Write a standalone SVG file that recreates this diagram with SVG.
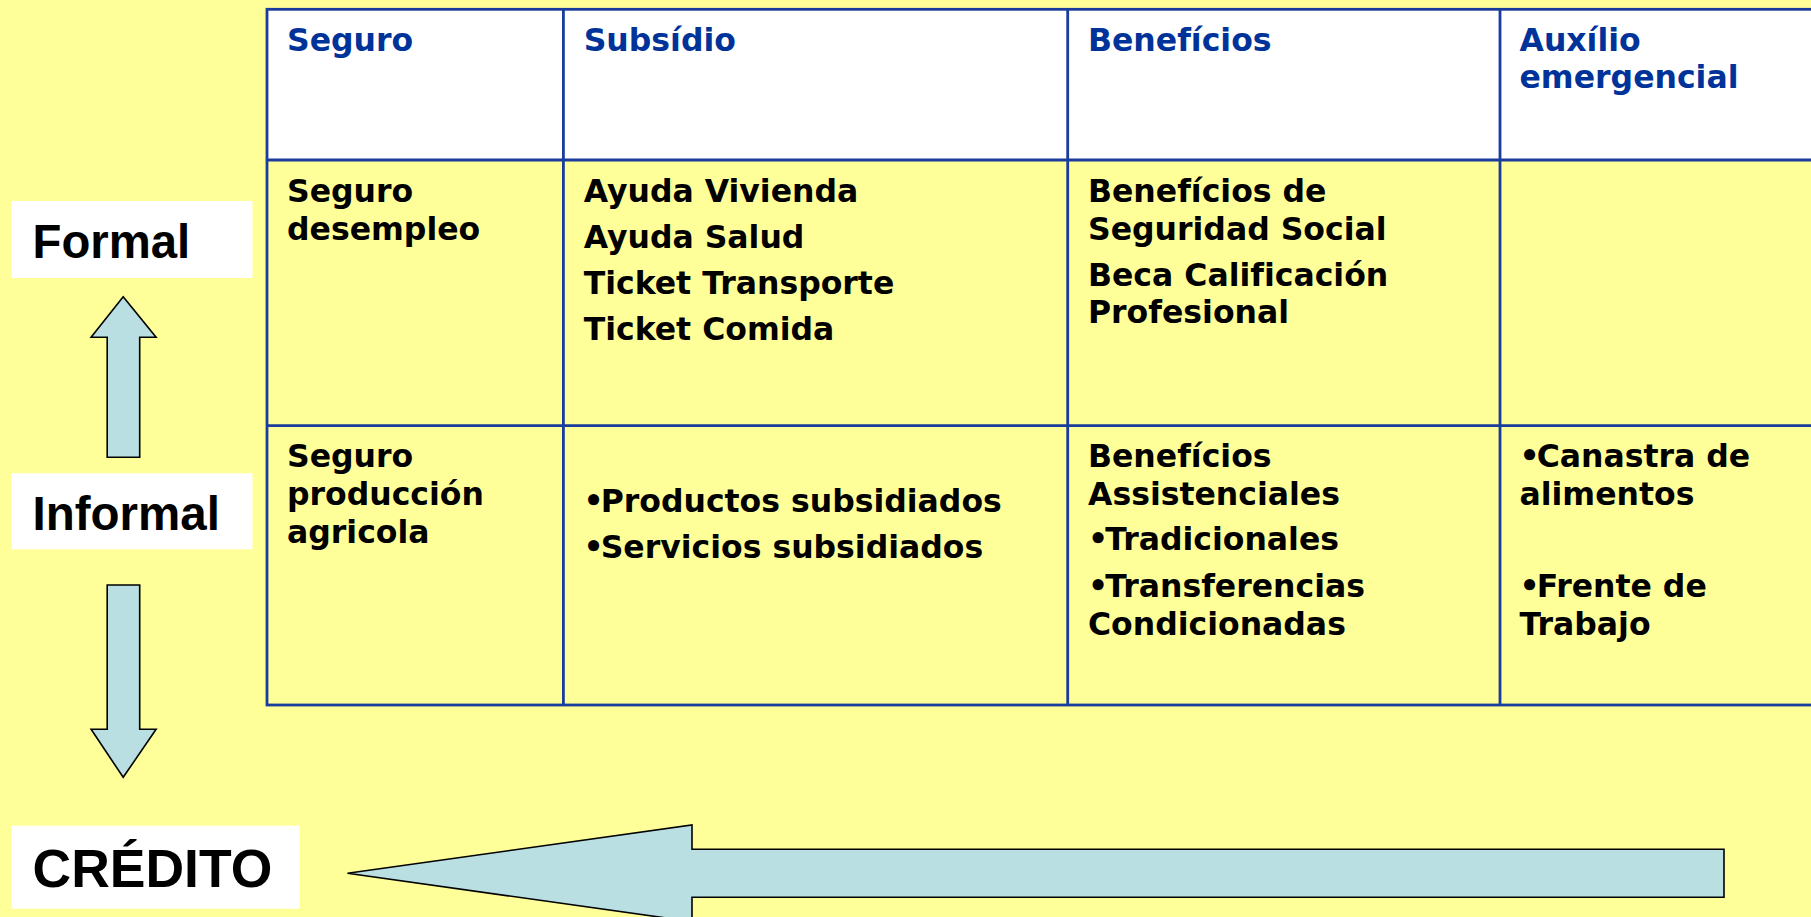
<svg xmlns="http://www.w3.org/2000/svg" width="1811" height="917" viewBox="0 0 1811 917">
<style>
.t{font-family:"DejaVu Sans",Verdana,sans-serif;font-weight:bold;font-size:31.5px;fill:#000;font-variant-ligatures:none}
.h{fill:#003399}
.lab{font-family:"Liberation Sans",Arial,sans-serif;font-weight:bold;fill:#000}
.box{fill:#fff}
.arr{fill:#b9dfe3;stroke:#000;stroke-width:1.6;stroke-linejoin:miter}
.grid{stroke:#1a3c9c;stroke-width:2.8;fill:none}
</style>
<rect width="1811" height="917" fill="#ffff99"/>
<g id="table">
<rect x="267" y="9.3" width="1570" height="150.7" fill="#fff"/>
<g class="grid">
<rect x="267" y="9.3" width="1570" height="695.7"/>
<line x1="267" y1="160" x2="1837" y2="160"/>
<line x1="267" y1="425.7" x2="1837" y2="425.7"/>
<line x1="563.4" y1="9.3" x2="563.4" y2="705"/>
<line x1="1067.7" y1="9.3" x2="1067.7" y2="705"/>
<line x1="1500" y1="9.3" x2="1500" y2="705"/>
</g>
</g>
<g id="header">
<text class="t h" x="287" y="51">Seguro</text>
<text class="t h" x="583.7" y="51">Subsídio</text>
<text class="t h" x="1088" y="51">Benefícios</text>
<text class="t h" x="1519.5" y="51">Auxílio</text>
<text class="t h" x="1519.5" y="88.3">emergencial</text>
</g>
<g id="row-formal">
<text class="t" x="287" y="201.7">Seguro</text>
<text class="t" x="287" y="240">desempleo</text>
<text class="t" x="583.7" y="201.7">Ayuda Vivienda</text>
<text class="t" x="583.7" y="248.3">Ayuda Salud</text>
<text class="t" x="583.7" y="294">Ticket Transporte</text>
<text class="t" x="583.7" y="340">Ticket Comida</text>
<text class="t" x="1088" y="201.7">Benefícios de</text>
<text class="t" x="1088" y="240">Seguridad Social</text>
<text class="t" x="1088" y="286">Beca Calificación</text>
<text class="t" x="1088" y="323.3">Profesional</text>
</g>
<g id="row-informal">
<text class="t" x="287" y="466.7">Seguro</text>
<text class="t" x="287" y="505">producción</text>
<text class="t" x="287" y="543.3">agricola</text>
<text class="t" x="583.5" y="511.7">•<tspan dx="-3">Productos subsidiados</tspan></text>
<text class="t" x="583.5" y="558.3">•<tspan dx="-3">Servicios subsidiados</tspan></text>
<text class="t" x="1088" y="466.7">Benefícios</text>
<text class="t" x="1088" y="505">Assistenciales</text>
<text class="t" x="1088" y="550">•<tspan dx="-3">Tradicionales</tspan></text>
<text class="t" x="1088" y="596.7">•<tspan dx="-3">Transferencias</tspan></text>
<text class="t" x="1088" y="635">Condicionadas</text>
<text class="t" x="1519.5" y="466.7">•<tspan dx="-3">Canastra de</tspan></text>
<text class="t" x="1519.5" y="505">alimentos</text>
<text class="t" x="1519.5" y="596.7">•<tspan dx="-3">Frente de</tspan></text>
<text class="t" x="1519.5" y="635">Trabajo</text>
</g>
<g id="formal">
<rect class="box" x="11.5" y="201" width="241" height="77"/>
<text class="lab" x="32.5" y="258" font-size="47.3">Formal</text>
</g>
<g id="informal">
<rect class="box" x="11.5" y="473.3" width="241" height="76"/>
<text class="lab" x="32.5" y="530" font-size="47.5">Informal</text>
</g>
<g id="credito">
<rect class="box" x="11.5" y="825.7" width="288.2" height="83"/>
<text class="lab" x="32.5" y="886.7" font-size="53.5">CRÉDITO</text>
</g>
<g id="connectors">
<polygon class="arr" points="123.2,296.7 156.1,337.3 139.7,337.3 139.7,457.3 107.2,457.3 107.2,337.3 91.1,337.3"/>
<polygon class="arr" points="107.2,585 139.7,585 139.7,729.3 156.1,729.3 123.2,777.3 91.1,729.3 107.2,729.3"/>
<polygon class="arr" points="347.5,873.3 692,825 692,849.3 1724,849.3 1724,897.3 692,897.3 692,921.6"/>
</g>
</svg>
